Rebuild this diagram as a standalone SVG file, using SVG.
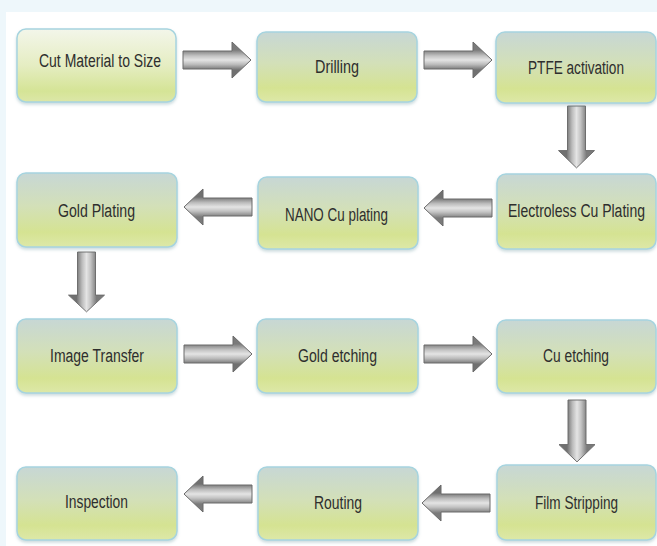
<svg xmlns="http://www.w3.org/2000/svg" width="657" height="546" viewBox="0 0 657 546">
  <style>
    .box { fill: url(#boxGrad); stroke: #a6d4df; stroke-width: 1.5; filter: url(#shadow); }
    .box.first { fill: url(#boxGradLight); }
    .lbl { font-family: "Liberation Sans", Arial, sans-serif; font-size: 18px; fill: #2e2e2e; text-anchor: middle; }
    .arr { fill: url(#arrGrad); stroke: #6a6a6a; stroke-width: 1; stroke-linejoin: miter; }
  </style>
  <defs>
    <linearGradient id="boxGrad" x1="0" y1="0" x2="0" y2="1">
      <stop offset="0" stop-color="#c7d7d5"/>
      <stop offset="0.45" stop-color="#d3e0b8"/>
      <stop offset="0.8" stop-color="#d5e392"/>
      <stop offset="1" stop-color="#dde8a8"/>
    </linearGradient>
    <linearGradient id="boxGradLight" x1="0" y1="0" x2="0" y2="1">
      <stop offset="0" stop-color="#f3f6ea"/>
      <stop offset="0.5" stop-color="#e5edc2"/>
      <stop offset="0.85" stop-color="#d5e496"/>
      <stop offset="1" stop-color="#dce7a8"/>
    </linearGradient>
    <linearGradient id="arrGrad" gradientUnits="userSpaceOnUse" x1="0" y1="-10" x2="0" y2="10">
      <stop offset="0" stop-color="#7a7a7a"/>
      <stop offset="0.3" stop-color="#c4c4c4"/>
      <stop offset="0.5" stop-color="#e4e4e4"/>
      <stop offset="0.72" stop-color="#bcbcbc"/>
      <stop offset="1" stop-color="#707070"/>
    </linearGradient>
    <filter id="shadow" x="-10%" y="-10%" width="120%" height="130%">
      <feDropShadow dx="0" dy="2" stdDeviation="1.5" flood-color="#6f9aa3" flood-opacity="0.35"/>
    </filter>
    <path id="arrow" d="M0,-9 H49 V-18 L68,0 L49,18 V9 H0 Z"/>
  </defs>

  <rect x="0" y="0" width="657" height="546" fill="#eef7fb"/>
  <rect x="6" y="12" width="651" height="534" fill="#ffffff"/>

  <g id="connectors">
    <use href="#arrow" class="arr" transform="translate(183,60)"/>
    <use href="#arrow" class="arr" transform="translate(424,60)"/>
    <use href="#arrow" class="arr" transform="translate(576.5,106) rotate(90) scale(0.91,1)"/>
    <use href="#arrow" class="arr" transform="translate(492,208) rotate(180)"/>
    <use href="#arrow" class="arr" transform="translate(252,207) rotate(180)"/>
    <use href="#arrow" class="arr" transform="translate(86.5,252) rotate(90) scale(0.88,1)"/>
    <use href="#arrow" class="arr" transform="translate(184,354)"/>
    <use href="#arrow" class="arr" transform="translate(424,354)"/>
    <use href="#arrow" class="arr" transform="translate(577,400) rotate(90) scale(0.91,1)"/>
    <use href="#arrow" class="arr" transform="translate(490,503) rotate(180)"/>
    <use href="#arrow" class="arr" transform="translate(252,494) rotate(180)"/>
  </g>

  <g id="n1"><rect class="box first" x="17" y="29" width="159" height="73" rx="9"/><text class="lbl" x="100" y="67" textLength="122" lengthAdjust="spacingAndGlyphs">Cut Material to Size</text></g>
  <g id="n2"><rect class="box" x="257" y="32" width="160" height="70" rx="9"/><text class="lbl" x="337" y="73" textLength="44" lengthAdjust="spacingAndGlyphs">Drilling</text></g>
  <g id="n3"><rect class="box" x="496" y="32" width="160" height="71" rx="9"/><text class="lbl" x="576" y="74" textLength="96" lengthAdjust="spacingAndGlyphs">PTFE activation</text></g>
  <g id="n4"><rect class="box" x="497" y="174" width="159" height="75" rx="9"/><text class="lbl" x="576.5" y="217" textLength="137" lengthAdjust="spacingAndGlyphs">Electroless Cu Plating</text></g>
  <g id="n5"><rect class="box" x="258" y="177" width="160" height="72" rx="9"/><text class="lbl" x="336.5" y="221" textLength="103" lengthAdjust="spacingAndGlyphs">NANO Cu plating</text></g>
  <g id="n6"><rect class="box" x="17" y="173" width="160" height="74" rx="9"/><text class="lbl" x="96.5" y="217" textLength="77" lengthAdjust="spacingAndGlyphs">Gold Plating</text></g>
  <g id="n7"><rect class="box" x="17" y="319" width="160" height="74" rx="9"/><text class="lbl" x="97" y="362" textLength="94" lengthAdjust="spacingAndGlyphs">Image Transfer</text></g>
  <g id="n8"><rect class="box" x="257" y="319" width="161" height="74" rx="9"/><text class="lbl" x="337.5" y="362" textLength="79" lengthAdjust="spacingAndGlyphs">Gold etching</text></g>
  <g id="n9"><rect class="box" x="497" y="320" width="159" height="73" rx="9"/><text class="lbl" x="576" y="362" textLength="66" lengthAdjust="spacingAndGlyphs">Cu etching</text></g>
  <g id="n10"><rect class="box" x="497" y="465" width="159" height="75" rx="9"/><text class="lbl" x="576.5" y="509" textLength="83" lengthAdjust="spacingAndGlyphs">Film Stripping</text></g>
  <g id="n11"><rect class="box" x="258" y="467" width="160" height="73" rx="9"/><text class="lbl" x="338" y="509" textLength="48" lengthAdjust="spacingAndGlyphs">Routing</text></g>
  <g id="n12"><rect class="box" x="17" y="467" width="160" height="73" rx="9"/><text class="lbl" x="96.5" y="508" textLength="63" lengthAdjust="spacingAndGlyphs">Inspection</text></g>
</svg>
